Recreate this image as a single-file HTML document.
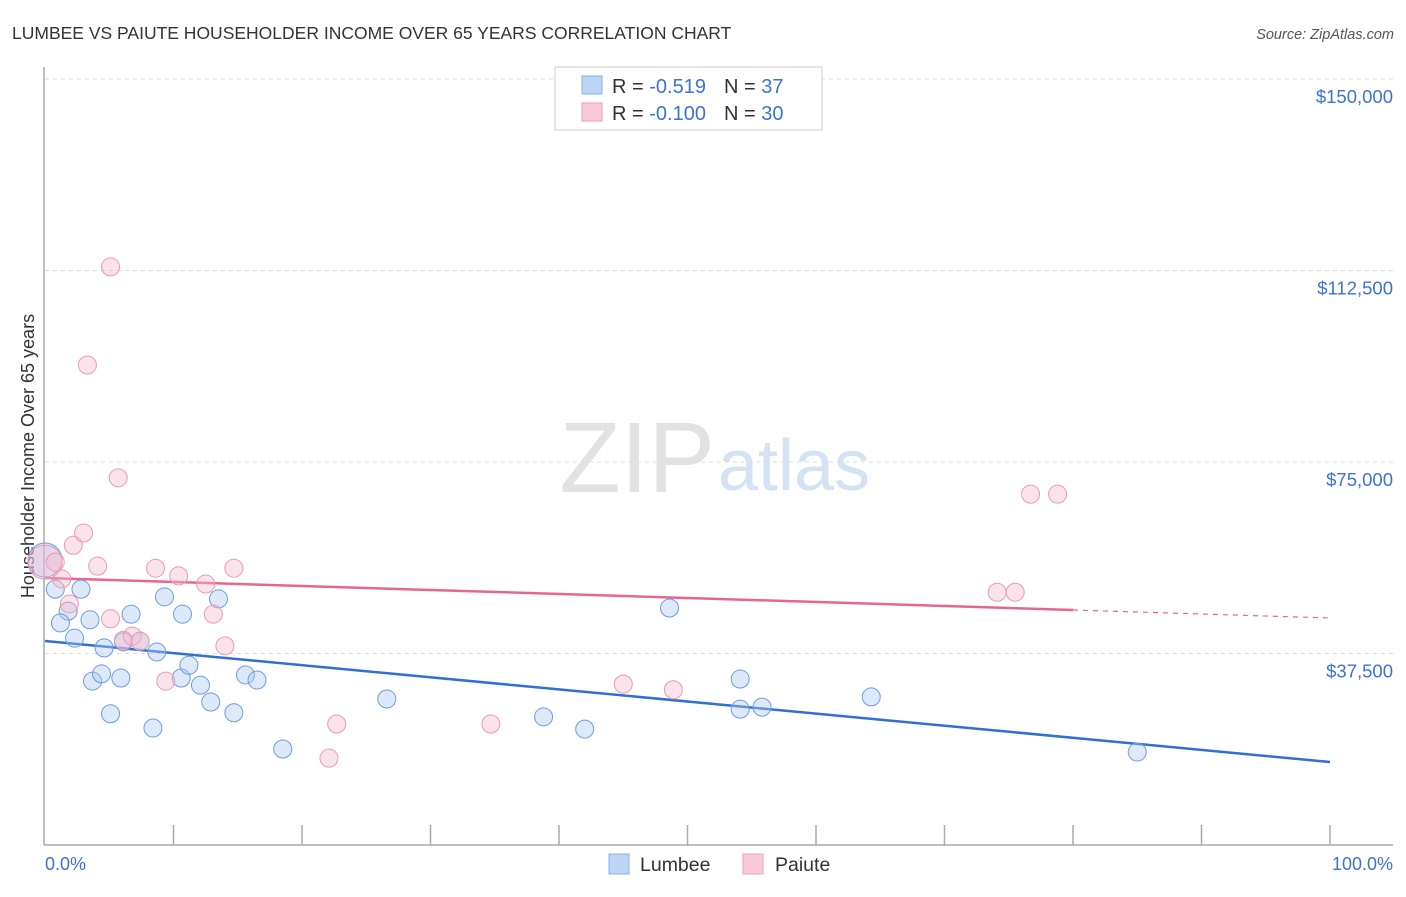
<!DOCTYPE html>
<html><head><meta charset="utf-8"><style>
body{margin:0;background:#fff;font-family:"Liberation Sans",sans-serif}
svg text{font-family:"Liberation Sans",sans-serif}
</style></head><body>
<svg width="1406" height="892" id="c">
<text x="12" y="39" font-size="17.5" fill="#333">LUMBEE VS PAIUTE HOUSEHOLDER INCOME OVER 65 YEARS CORRELATION CHART</text>
<text x="1394" y="39" font-size="14.5" fill="#555" text-anchor="end" font-style="italic">Source: ZipAtlas.com</text>
<text x="715" y="492" font-size="100" fill="#e2e2e2" text-anchor="end" font-family="Liberation Serif">ZIP</text>
<text x="718" y="490" font-size="72" fill="#d4e2f4">atlas</text>
<line x1="44" y1="67" x2="44" y2="845" stroke="#aaa" stroke-width="1.5"/>
<line x1="44" y1="845" x2="1393" y2="845" stroke="#aaa" stroke-width="1.5"/>
<text transform="translate(34,456) rotate(-90)" font-size="18" fill="#333" text-anchor="middle">Householder Income Over 65 years</text>
<text x="45" y="870" font-size="18" fill="#3b73d9">0.0%</text>
<text x="1393" y="870" font-size="18" fill="#3b73d9" text-anchor="end">100.0%</text>
<g id="grid"></g><g id="lines"></g><g id="pts"></g>
<g>
<rect x="555" y="67" width="267" height="63" fill="#fff" stroke="#ccc"/>
<rect x="582" y="76" width="20" height="18" fill="#bcd4f5" stroke="#8ab0e6"/>
<rect x="582" y="103" width="20" height="18" fill="#f9cbd9" stroke="#ee9fb8"/>
<text x="612" y="93" font-size="20" fill="#333">R = <tspan fill="#3b73d9">-0.519</tspan><tspan dx="18">N = </tspan><tspan fill="#3b73d9">37</tspan></text>
<text x="612" y="120" font-size="20" fill="#333">R = <tspan fill="#3b73d9">-0.100</tspan><tspan dx="18">N = </tspan><tspan fill="#3b73d9">30</tspan></text>
</g>
<g>
<rect x="609" y="854" width="20" height="20" fill="#bcd4f5" stroke="#8ab0e6"/>
<text x="640" y="871" font-size="19.5" fill="#333">Lumbee</text>
<rect x="743" y="854" width="20" height="20" fill="#f9cbd9" stroke="#ee9fb8"/>
<text x="775" y="871" font-size="19.5" fill="#333">Paiute</text>
</g>
</svg>
<script>
const yTicks=[37500,75000,112500,150000];
const yTickLabels=["$37,500","$75,000","$112,500","$150,000"];
const xTicks=[10,20,30,40,50,60,70,80,90,100];
const lumbeeX=[0,0.8,1.8,1.2,2.3,2.8,3.5,3.7,4.4,4.6,5.1,5.9,6.1,6.7,7.4,8.4,8.7,9.3,10.7,10.6,11.2,12.1,12.9,13.5,14.7,15.6,16.5,18.5,26.6,38.8,42.0,48.6,54.1,54.1,55.8,64.3,85.0];
const lumbeeY=[55800,50100,45800,43500,40500,50100,44100,32100,33500,38600,25700,32700,39800,45200,39900,22900,37800,48600,45200,32700,35200,31300,28000,48200,25900,33300,32300,18800,28600,25100,22700,46400,32500,26600,27000,29000,18200];
const paiuteX=[0,0.8,1.3,1.9,2.2,3.0,4.1,5.1,3.3,5.1,5.7,6.1,6.8,7.4,8.6,9.4,10.4,12.5,13.1,14.0,14.7,22.7,22.1,34.7,45.0,48.9,74.1,75.5,76.7,78.8];
const paiuteY=[55400,55400,52100,47200,58700,61100,54600,113200,94000,44300,71900,40100,40900,39900,54200,32100,52700,51100,45200,39000,54200,23700,17000,23700,31500,30400,49500,49500,68700,68700];
const lumbeeTrend=[39950,16250];
const paiuteTrend=[52290,44450];
const NS="http://www.w3.org/2000/svg";
const X=v=>45+v*12.85, Y=v=>845-v/37500*191.5;
function mk(t,a,p){const e=document.createElementNS(NS,t);for(const k in a)e.setAttribute(k,a[k]);document.getElementById(p).appendChild(e);return e;}
yTicks.forEach((t,i)=>{
 const l=mk('line',{x1:45,x2:1393,y1:Y(t),y2:Y(t),stroke:'#ddd','stroke-dasharray':'4,4'},'grid');
 
 
 const tx=mk('text',{x:1393,y:Y(t)+24,'font-size':18.5,fill:'#3b73d9','text-anchor':'end'},'grid');
 tx.textContent=yTickLabels[i];
 
 
});
xTicks.forEach(t=>{
 const l=mk('line',{x1:X(t),x2:X(t),y1:825,y2:845,stroke:'#aaa','stroke-width':1.5},'grid');
 
 
});
let l1=mk('line',{x1:X(0),y1:Y(lumbeeTrend[0]),x2:X(100),y2:Y(lumbeeTrend[1]),stroke:'#2f6fd6','stroke-width':2.5},'lines');


const pAt=x=>paiuteTrend[0]+(paiuteTrend[1]-paiuteTrend[0])*x/100;
let l2=mk('line',{x1:X(0),y1:Y(pAt(0)),x2:X(80),y2:Y(pAt(80)),stroke:'#e8668e','stroke-width':2.5},'lines');


let l3=mk('line',{x1:X(80),y1:Y(pAt(80)),x2:X(100),y2:Y(pAt(100)),stroke:'#e8668e','stroke-width':1.2,'stroke-dasharray':'5,5'},'lines');


function dots(xs,ys,fill,stroke,name){xs.forEach((x,i)=>{
 const r=(i===0&&x===0)?17:9;
 const c=mk('circle',{cx:X(x),cy:Y(ys[i]),r:r,fill:fill,stroke:stroke,'stroke-width':1},'pts');
 
 
});}
dots(lumbeeX,lumbeeY,'rgba(170,200,240,0.4)','#6c9ce2','lumbee-point');
dots(paiuteX,paiuteY,'rgba(248,185,205,0.4)','#eb9ab4','paiute-point');
</script>
</body></html>
